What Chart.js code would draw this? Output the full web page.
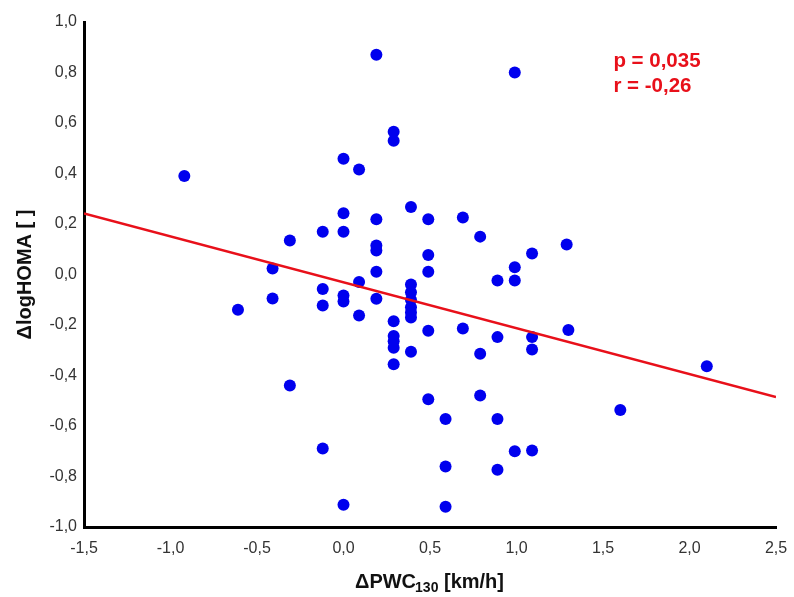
<!DOCTYPE html>
<html>
<head>
<meta charset="utf-8">
<script src="https://cdn.jsdelivr.net/npm/chart.js@4"></script>
<style>
html,body{margin:0;padding:0;background:#fff;}
#wrap{width:794px;height:597px;position:relative;}
</style>
</head>
<body>
<div id="wrap"><canvas id="c"></canvas></div>
<script>
// Data
const xValues = [-0.92,-0.31,-0.41,-0.41,-0.61,-0.31,0.19,0.99,0.29,0.29,0.0,0.09,0.0,0.19,0.39,0.49,0.69,0.79,1.09,-0.12,0.0,0.19,0.19,0.49,0.19,0.49,0.99,0.89,0.99,0.09,-0.12,0.0,0.0,0.19,-0.12,0.09,0.39,0.39,0.39,0.39,0.39,0.39,0.39,0.29,0.29,0.29,0.29,0.29,0.49,0.69,0.89,0.79,1.09,1.09,0.49,0.79,0.59,0.89,-0.12,0.59,0.89,0.99,1.09,0.0,0.59,1.30,2.10,1.60,1.29];
const yValues = [0.39,0.135,0.024,-0.095,-0.14,-0.44,0.87,0.80,0.565,0.53,0.458,0.416,0.243,0.219,0.267,0.219,0.226,0.15,0.083,0.169,0.169,0.115,0.095,0.077,0.011,0.011,0.029,-0.024,-0.024,-0.03,-0.057,-0.083,-0.107,-0.096,-0.123,-0.162,-0.04,-0.07,-0.10,-0.13,-0.15,-0.17,-0.306,-0.185,-0.244,-0.264,-0.29,-0.355,-0.223,-0.214,-0.248,-0.314,-0.248,-0.297,-0.494,-0.479,-0.572,-0.572,-0.689,-0.76,-0.773,-0.70,-0.697,-0.912,-0.92,-0.22,-0.363,-0.537,0.119];
const lineX = [-1.5, 2.5];
const lineY = [0.242, -0.485];
const xTicks = [-1.5,-1.0,-0.5,0.0,0.5,1.0,1.5,2.0,2.5];
const yTicks = [-1.0,-0.8,-0.6,-0.4,-0.2,0.0,0.2,0.4,0.6,0.8,1.0];
const statsText = ['p = 0,035', 'r = -0,26'];
const xTitleParts = ['\u0394PWC', '130', ' [km/h]'];
const yTitle = '\u0394logHOMA [ ]';

const fmt = v => (Math.abs(v) < 1e-9 ? 0 : v).toFixed(1).replace('.', ',');
const FONT = '"Liberation Sans", Arial, sans-serif';

const titlesPlugin = {
  id: 'titles',
  afterDraw(chart) {
    const ctx = chart.ctx;
    const xs = chart.scales.x, ys = chart.scales.y;
    ctx.save();
    // stats annotation
    ctx.fillStyle = '#e8101a';
    ctx.font = 'bold 20.5px ' + FONT;
    ctx.textAlign = 'left';
    ctx.textBaseline = 'middle';
    const ax = xs.getPixelForValue(1.56);
    const ay = ys.getPixelForValue(0.845);
    statsText.forEach((t, i) => ctx.fillText(t, ax, ay + i * 25));
    // x title with subscript
    ctx.fillStyle = '#111';
    ctx.textBaseline = 'alphabetic';
    const big = 'bold 20px ' + FONT, small = 'bold 14px ' + FONT;
    ctx.font = big; const w0 = ctx.measureText(xTitleParts[0]).width;
    ctx.font = small; const w1 = ctx.measureText(xTitleParts[1]).width;
    ctx.font = big; const w2 = ctx.measureText(xTitleParts[2]).width;
    const cx = (chart.chartArea.left + chart.chartArea.right) / 2;
    let x0 = cx - (w0 + w1 + w2) / 2;
    const base = 588;
    ctx.font = big; ctx.fillText(xTitleParts[0], x0, base);
    ctx.font = small; ctx.fillText(xTitleParts[1], x0 + w0 - 1, base + 4);
    ctx.font = big; ctx.fillText(xTitleParts[2], x0 + w0 + w1 - 1, base);
    // y title rotated
    ctx.translate(25, (chart.chartArea.top + chart.chartArea.bottom) / 2);
    ctx.rotate(-Math.PI / 2);
    ctx.textAlign = 'center';
    ctx.textBaseline = 'middle';
    ctx.font = big;
    ctx.fillText(yTitle, 0, 0);
    ctx.restore();
  }
};

new Chart(document.getElementById('c'), {
  type: 'scatter',
  data: {
    datasets: [
      {
        type: 'line',
        data: lineX.map((x, i) => ({x, y: lineY[i]})),
        borderColor: '#e8101a',
        borderWidth: 2.5,
        pointRadius: 0,
        fill: false,
        order: 0
      },
      {
        data: xValues.map((x, i) => ({x, y: yValues[i]})),
        backgroundColor: '#0000ee',
        borderWidth: 0,
        pointRadius: 6,
        order: 1
      }
    ]
  },
  options: {
    responsive: true,
    maintainAspectRatio: false,
    animation: false,
    layout: {padding: {top: 22, right: 18, bottom: 0, left: 0}},
    plugins: {legend: {display: false}, tooltip: {enabled: false}},
    scales: {
      x: {
        type: 'linear',
        min: -1.5, max: 2.5,
        afterBuildTicks: s => { s.ticks = xTicks.map(v => ({value: v})); },
        afterFit: s => { s.height = 70; s.paddingLeft = 0; s.paddingRight = 0; },
        grid: {display: false, drawTicks: false},
        border: {display: true, color: '#000', width: 3},
        ticks: {callback: v => fmt(v), color: '#333', font: {size: 16, family: FONT}, padding: 12, maxRotation: 0, autoSkip: false}
      },
      y: {
        type: 'linear',
        min: -1, max: 1,
        afterBuildTicks: s => { s.ticks = yTicks.map(v => ({value: v})); },
        afterFit: s => { s.width = 84; s.paddingTop = 0; s.paddingBottom = 0; },
        grid: {display: false, drawTicks: false},
        border: {display: true, color: '#000', width: 3},
        ticks: {callback: v => fmt(v), color: '#333', font: {size: 16, family: FONT}, padding: 7, autoSkip: false}
      }
    }
  },
  plugins: [titlesPlugin]
});
</script>
</body>
</html>
